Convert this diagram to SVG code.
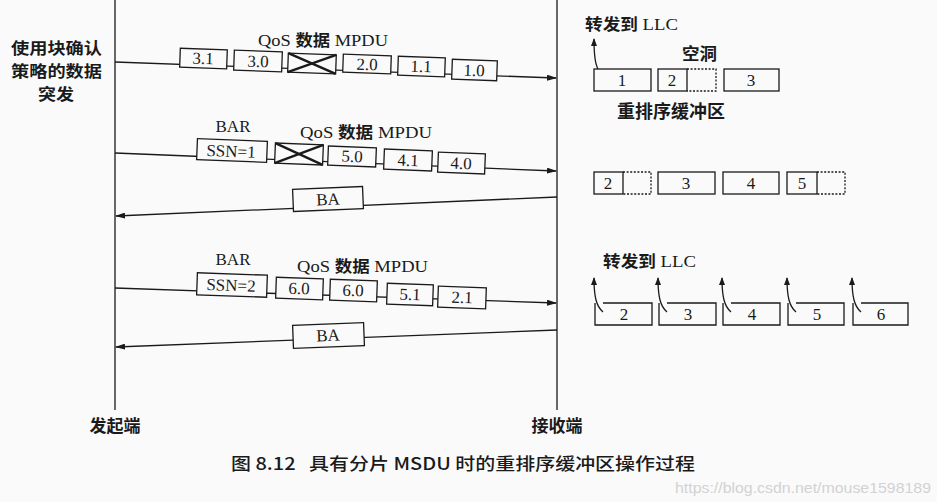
<svg xmlns="http://www.w3.org/2000/svg" width="937" height="502" viewBox="0 0 937 502">
<defs>
<marker id="ah" viewBox="0 0 10 6" refX="9" refY="3" markerWidth="10" markerHeight="6" markerUnits="userSpaceOnUse" orient="auto">
<path d="M0,0 L10,3 L0,6 Z" fill="#1a1a1a"/>
</marker>
<marker id="ahs" viewBox="0 0 8 6" refX="7" refY="3" markerWidth="8" markerHeight="6" markerUnits="userSpaceOnUse" orient="auto">
<path d="M0,0 L8,3 L0,6 Z" fill="#1a1a1a"/>
</marker>
</defs>
<style>
.ln{stroke:#1a1a1a;stroke-width:1.3;fill:none}
.bx{stroke:#1a1a1a;stroke-width:1.3;fill:#fafafa}
.dt{stroke:#1a1a1a;stroke-width:1.3;fill:none;stroke-dasharray:2 1.6}
.x{stroke:#1a1a1a;stroke-width:2.4}
.n{font-family:"Liberation Serif",serif;font-size:17px;fill:#1a1a1a;text-anchor:middle}
.s{font-family:"Liberation Serif",serif;font-size:17px;fill:#1a1a1a}
.c{font-family:"Noto Sans CJK SC",sans-serif;font-weight:bold;fill:#1a1a1a}
</style>
<rect width="937" height="502" fill="#fafafa"/>

<g id="lifelines">
<line class="ln" x1="115" y1="0" x2="115" y2="410"/>
<line class="ln" x1="557" y1="0" x2="557" y2="410"/>
</g>

<g id="connectors">
<line class="ln" x1="115" y1="62" x2="556" y2="78" marker-end="url(#ah)"/>
<line class="ln" x1="115" y1="153" x2="556" y2="171" marker-end="url(#ah)"/>
<line class="ln" x1="557" y1="197" x2="116" y2="216" marker-end="url(#ah)"/>
<line class="ln" x1="115" y1="288" x2="556" y2="303" marker-end="url(#ah)"/>
<line class="ln" x1="557" y1="330" x2="116" y2="347" marker-end="url(#ah)"/>
<path class="ln" d="M603,76 C596,70 594,60 594,39" marker-end="url(#ahs)"/>
<path class="ln" d="M603,312 C596,306 594,296 594,278" marker-end="url(#ahs)"/>
<path class="ln" d="M667,312 C660,306 658,296 658,278" marker-end="url(#ahs)"/>
<path class="ln" d="M731,312 C724,306 722,296 722,278" marker-end="url(#ahs)"/>
<path class="ln" d="M796,312 C789,306 787,296 787,278" marker-end="url(#ahs)"/>
<path class="ln" d="M861,312 C854,306 852,296 852,278" marker-end="url(#ahs)"/>
</g>

<g id="sender-label">
<text class="c" x="11" y="54" font-size="15.5" textLength="91" lengthAdjust="spacingAndGlyphs">使用块确认</text>
<text class="c" x="11" y="77" font-size="15.5" textLength="91" lengthAdjust="spacingAndGlyphs">策略的数据</text>
<text class="c" x="56" y="100" font-size="15.5" text-anchor="middle" textLength="36" lengthAdjust="spacingAndGlyphs">突发</text>
</g>

<g id="burst1">
<text x="258" y="46" textLength="130" lengthAdjust="spacingAndGlyphs"><tspan class="s">QoS </tspan><tspan class="c" font-size="16">数据</tspan><tspan class="s"> MPDU</tspan></text>
<g transform="rotate(2 203 58)"><rect class="bx" x="180" y="49" width="47" height="19"/><text class="n" x="203" y="64">3.1</text></g>
<g transform="rotate(2 258 61)"><rect class="bx" x="234" y="51" width="48" height="20"/><text class="n" x="258" y="67">3.0</text></g>
<g transform="rotate(2 312 63)"><rect class="bx" x="288" y="54" width="48" height="19"/><line class="x" x1="288" y1="54" x2="336" y2="73"/><line class="x" x1="288" y1="73" x2="336" y2="54"/></g>
<g transform="rotate(2 367 64)"><rect class="bx" x="343" y="55" width="48" height="18"/><text class="n" x="367" y="70">2.0</text></g>
<g transform="rotate(2 421 66)"><rect class="bx" x="398" y="57" width="47" height="19"/><text class="n" x="421" y="72">1.1</text></g>
<g transform="rotate(2 474 70)"><rect class="bx" x="452" y="60" width="45" height="20"/><text class="n" x="474" y="76">1.0</text></g>
</g>

<g id="burst2">
<text class="s" x="233" y="132" text-anchor="middle">BAR</text>
<text x="300" y="138" textLength="132" lengthAdjust="spacingAndGlyphs"><tspan class="s">QoS </tspan><tspan class="c" font-size="16">数据</tspan><tspan class="s"> MPDU</tspan></text>
<g transform="rotate(2.3 232 151)"><rect class="bx" x="197" y="140" width="70" height="21"/><text class="n" x="231" y="157">SSN=1</text></g>
<g transform="rotate(2.3 299 154)"><rect class="bx" x="275" y="144" width="48" height="20"/><line class="x" x1="275" y1="144" x2="323" y2="164"/><line class="x" x1="275" y1="164" x2="323" y2="144"/></g>
<g transform="rotate(2.3 352 157)"><rect class="bx" x="328" y="147" width="48" height="19"/><text class="n" x="352" y="162">5.0</text></g>
<g transform="rotate(2.3 408 160)"><rect class="bx" x="384" y="150" width="48" height="20"/><text class="n" x="408" y="166">4.1</text></g>
<g transform="rotate(2.3 461 163)"><rect class="bx" x="438" y="153" width="47" height="20"/><text class="n" x="461" y="169">4.0</text></g>
</g>

<g id="ba1" transform="rotate(-2.4 328 199)">
<rect class="bx" x="293" y="188" width="70" height="22"/>
<text class="n" x="328" y="205">BA</text>
</g>

<g id="burst3">
<text class="s" x="233" y="265" text-anchor="middle">BAR</text>
<text x="297" y="272" textLength="131" lengthAdjust="spacingAndGlyphs"><tspan class="s">QoS </tspan><tspan class="c" font-size="16">数据</tspan><tspan class="s"> MPDU</tspan></text>
<g transform="rotate(2 232 285)"><rect class="bx" x="197" y="274" width="70" height="22"/><text class="n" x="231" y="291">SSN=2</text></g>
<g transform="rotate(2 299 288)"><rect class="bx" x="276" y="278" width="47" height="21"/><text class="n" x="299" y="294">6.0</text></g>
<g transform="rotate(2 353 290)"><rect class="bx" x="330" y="280" width="47" height="21"/><text class="n" x="353" y="296">6.0</text></g>
<g transform="rotate(2 410 294)"><rect class="bx" x="387" y="284" width="46" height="21"/><text class="n" x="410" y="300">5.1</text></g>
<g transform="rotate(2 462 297)"><rect class="bx" x="438" y="287" width="48" height="21"/><text class="n" x="462" y="303">2.1</text></g>
</g>

<g id="ba2" transform="rotate(-2.2 328 335)">
<rect class="bx" x="293" y="324" width="71" height="23"/>
<text class="n" x="328" y="341">BA</text>
</g>

<g id="buffer1">
<text x="585" y="30" textLength="93" lengthAdjust="spacingAndGlyphs"><tspan class="c" font-size="16">转发到</tspan><tspan class="s"> LLC</tspan></text>
<text class="c" x="682" y="60" font-size="17" textLength="35" lengthAdjust="spacingAndGlyphs">空洞</text>
<rect class="bx" x="594" y="69" width="57" height="22"/><text class="n" x="622" y="86">1</text>
<rect class="bx" x="658" y="69" width="29" height="22"/><text class="n" x="672" y="86">2</text>
<path class="dt" d="M687,69 H716 V91 H687"/>
<rect class="bx" x="724" y="69" width="55" height="22"/><text class="n" x="751" y="86">3</text>
<text class="c" x="617" y="118" font-size="18" textLength="108" lengthAdjust="spacingAndGlyphs">重排序缓冲区</text>
</g>

<g id="buffer2">
<rect class="bx" x="594" y="172" width="29" height="22"/><text class="n" x="608" y="189">2</text>
<path class="dt" d="M623,172 H651 V194 H623"/>
<rect class="bx" x="658" y="172" width="57" height="22"/><text class="n" x="686" y="189">3</text>
<rect class="bx" x="723" y="172" width="56" height="22"/><text class="n" x="751" y="189">4</text>
<rect class="bx" x="787" y="172" width="30" height="22"/><text class="n" x="802" y="189">5</text>
<path class="dt" d="M817,172 H845 V194 H817"/>
</g>

<g id="buffer3">
<text x="603" y="267" textLength="93" lengthAdjust="spacingAndGlyphs"><tspan class="c" font-size="16">转发到</tspan><tspan class="s"> LLC</tspan></text>
<path class="ln" d="M603,303 H652 V325 H595 V303"/><text class="n" x="624" y="320">2</text>
<path class="ln" d="M667,303 H716 V325 H659 V303"/><text class="n" x="688" y="320">3</text>
<path class="ln" d="M731,303 H780 V325 H723 V303"/><text class="n" x="752" y="320">4</text>
<path class="ln" d="M796,303 H844 V325 H788 V303"/><text class="n" x="817" y="320">5</text>
<path class="ln" d="M861,303 H908 V325 H853 V303"/><text class="n" x="881" y="320">6</text>
</g>

<g id="end-labels">
<text class="c" x="115" y="432" font-size="17" text-anchor="middle">发起端</text>
<text class="c" x="557" y="432" font-size="17" text-anchor="middle">接收端</text>
</g>

<g id="caption">
<text x="231" y="470" font-family="Noto Sans CJK SC, sans-serif" font-size="17" font-weight="500" fill="#1a1a1a" textLength="464" lengthAdjust="spacingAndGlyphs" xml:space="preserve">图 8.12   具有分片 MSDU 时的重排序缓冲区操作过程</text>
<text x="675" y="493" font-family="Liberation Sans, sans-serif" font-size="15" fill="#d2d2d2" textLength="256" lengthAdjust="spacingAndGlyphs">https://blog.csdn.net/mouse1598189</text>
</g>
</svg>
